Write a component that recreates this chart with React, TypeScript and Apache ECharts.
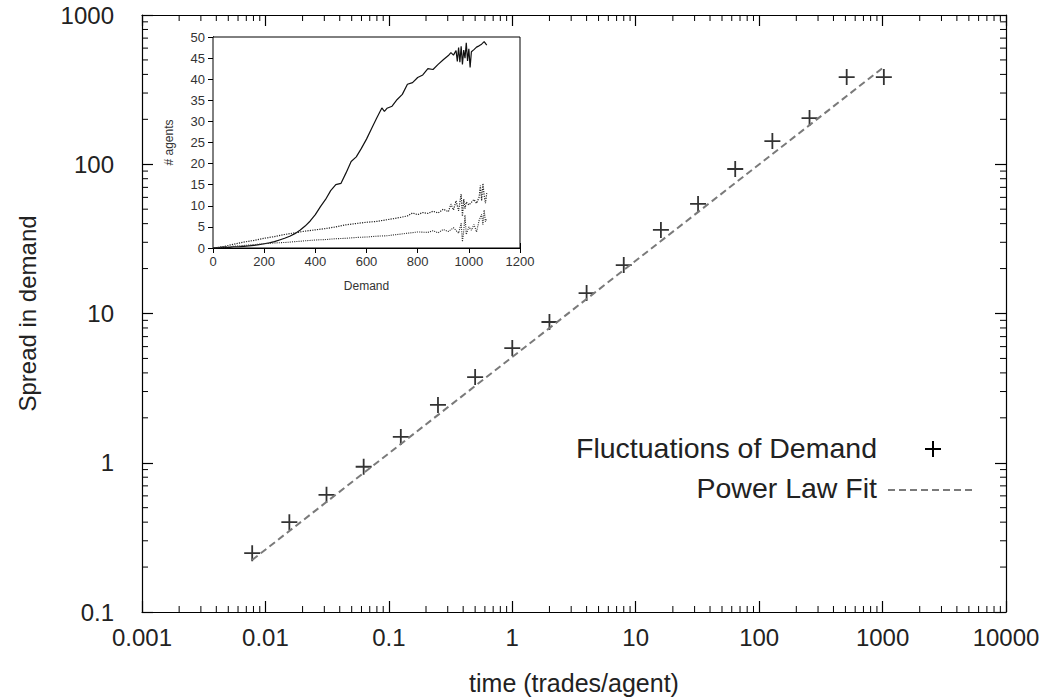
import React, { useEffect, useRef } from "react";
import * as echarts from "echarts";

// ---- main chart data ----
const timeValues = [0.0078125, 0.015625, 0.03125, 0.0625, 0.125, 0.25, 0.5, 1, 2, 4, 8, 16, 32, 64, 128, 256, 512, 1024];
const spreadValues = [0.248, 0.40, 0.61, 0.94, 1.49, 2.44, 3.75, 5.87, 8.77, 13.7, 21.1, 36.3, 54.2, 92.9, 143, 204, 384, 384];
const fitTime = [0.0078, 1000];
const fitSpread = [0.223, 441];
const xTickLabels = ["0.001", "0.01", "0.1", "1", "10", "100", "1000", "10000"];
const yTickLabels = ["0.1", "1", "10", "100", "1000"];

// ---- inset data ----
const insetA_x = [0, 20, 40, 60, 80, 100, 120, 140, 160, 180, 200, 220, 240, 260, 280, 300, 320, 340, 360, 380, 400, 420, 440, 460, 480, 500, 520, 540, 560, 580, 600, 620, 640, 660, 670, 680, 700, 720, 740, 760, 780, 800, 820, 840, 860, 880, 900, 920, 930, 940, 950, 955, 960, 965, 970, 975, 980, 985, 990, 995, 1000, 1005, 1010, 1020, 1030, 1040, 1050, 1060, 1070];
const insetA_y = [0, 0.1, 0.2, 0.1, 0.3, 0.3, 0.4, 0.5, 0.6, 0.8, 1.0, 1.2, 1.5, 1.9, 2.3, 2.8, 3.4, 4.2, 5.2, 6.4, 7.9, 9.8, 11.5, 13.6, 15.0, 15.3, 17.8, 20.5, 21.6, 23.6, 25.8, 28.3, 30.8, 33.2, 32.4, 33.1, 33.6, 35.2, 36.4, 38.8, 39.2, 40.4, 41.0, 42.5, 42.3, 43.5, 44.6, 45.6, 46.3, 45.7, 46.8, 44.2, 47.5, 44.0, 47.8, 43.5, 46.9, 45.0, 48.6, 44.3, 47.2, 42.8, 46.5, 47.0, 47.6, 47.9, 48.3, 48.9, 48.1];
const insetB_x = [0, 40, 80, 120, 160, 200, 240, 280, 320, 360, 400, 440, 480, 520, 560, 600, 640, 680, 720, 760, 780, 800, 820, 840, 860, 880, 900, 920, 930, 940, 950, 960, 970, 975, 980, 985, 990, 1000, 1010, 1020, 1030, 1040, 1045, 1050, 1055, 1060, 1065, 1070];
const insetB_y = [0, 0.3, 0.9, 1.4, 1.8, 2.3, 2.7, 3.2, 3.6, 4.0, 4.3, 4.6, 5.0, 5.5, 5.8, 6.1, 6.3, 6.7, 7.1, 7.6, 8.3, 7.9, 8.4, 8.2, 8.7, 8.3, 9.2, 8.6, 10.4, 9.0, 11.2, 8.8, 12.8, 7.5, 11.6, 9.3, 10.9, 10.2, 10.8, 11.5, 10.6, 12.0, 14.8, 11.2, 15.3, 12.4, 10.6, 13.0];
const insetC_x = [0, 40, 80, 120, 160, 200, 240, 280, 320, 360, 400, 440, 480, 520, 560, 600, 640, 680, 720, 760, 800, 840, 860, 880, 900, 920, 940, 960, 970, 975, 980, 985, 990, 1000, 1010, 1020, 1030, 1040, 1050, 1055, 1060, 1065, 1070];
const insetC_y = [0, 0.2, 0.4, 0.6, 0.8, 1.0, 1.2, 1.3, 1.5, 1.7, 1.9, 2.0, 2.2, 2.3, 2.5, 2.6, 2.8, 2.9, 3.2, 3.5, 3.8, 3.7, 4.1, 3.6, 4.4, 3.9, 4.8, 3.5, 5.9, 1.5, 4.0, 7.8, 3.2, 5.0, 4.2, 5.6, 3.8, 6.5, 8.0, 5.5, 9.0, 6.2, 7.0];

const FONT = "'Liberation Sans', Arial, sans-serif";
const TEXT = "#222";

function minorTicks(lo: number, hi: number): number[] {
  const out: number[] = [];
  for (let d = lo; d < hi; d++) {
    for (let m = 2; m <= 9; m++) out.push(m * Math.pow(10, d));
  }
  return out;
}

export default function App() {
  const ref = useRef<HTMLDivElement>(null);
  useEffect(() => {
    if (!ref.current) return;
    const chart = echarts.init(ref.current, undefined, { renderer: "svg" });
    const xMinor = minorTicks(-3, 4);
    const yMinor = minorTicks(-1, 3);
    const tickStyle = { stroke: "#000", lineWidth: 1 };
    const logLabel = (labels: string[], base: number) => (v: number) => {
      const i = Math.round(Math.log10(v)) - base;
      return labels[i] ?? "";
    };
    const plain = (v: number) => String(v);
    const insetAxisLabel = { fontSize: 13, color: "#333", fontFamily: FONT, formatter: plain };

    const option: any = {
      animation: false,
      backgroundColor: "#fff",
      grid: [
        { left: 142, top: 15, right: 43, bottom: 88, show: false },
        { left: 213, top: 37, width: 307, height: 211, show: true, backgroundColor: "#fff", borderColor: "#000", borderWidth: 1, z: 5 },
      ],
      xAxis: [
        {
          type: "log", gridIndex: 0, min: 0.001, max: 10000, logBase: 10,
          axisLine: { lineStyle: { color: "#000", width: 1.2 } },
          axisTick: { inside: true, length: 11, lineStyle: { color: "#000", width: 1.2 } },
          axisLabel: { fontSize: 24, color: TEXT, fontFamily: FONT, margin: 13, formatter: logLabel(xTickLabels, -3) },
          splitLine: { show: false },
          name: "time (trades/agent)", nameLocation: "middle", nameGap: 58,
          nameTextStyle: { fontSize: 25, color: TEXT, fontFamily: FONT },
        },
        {
          type: "log", gridIndex: 0, min: 0.001, max: 10000, logBase: 10, position: "top",
          axisLine: { lineStyle: { color: "#000", width: 1.2 } },
          axisTick: { inside: true, length: 11, lineStyle: { color: "#000", width: 1.2 } },
          axisLabel: { show: false }, splitLine: { show: false },
        },
        {
          type: "value", gridIndex: 1, min: 0, max: 1200, interval: 200,
          axisLine: { lineStyle: { color: "#000" } },
          axisTick: { inside: true, length: 5, lineStyle: { color: "#000" } },
          axisLabel: { ...insetAxisLabel, margin: 7 },
          splitLine: { show: false },
          name: "Demand", nameLocation: "middle", nameGap: 32,
          nameTextStyle: { fontSize: 12, color: "#333", fontFamily: FONT },
        },
        {
          type: "value", gridIndex: 1, min: 0, max: 1200, interval: 200, position: "top",
          axisLine: { lineStyle: { color: "#000" } },
          axisTick: { inside: true, length: 5, lineStyle: { color: "#000" } },
          axisLabel: { show: false }, splitLine: { show: false },
        },
      ],
      yAxis: [
        {
          type: "log", gridIndex: 0, min: 0.1, max: 1000, logBase: 10,
          axisLine: { lineStyle: { color: "#000", width: 1.2 } },
          axisTick: { inside: true, length: 11, lineStyle: { color: "#000", width: 1.2 } },
          axisLabel: { fontSize: 24, color: TEXT, fontFamily: FONT, margin: 28, formatter: logLabel(yTickLabels, -1) },
          splitLine: { show: false },
          name: "Spread in demand", nameLocation: "middle", nameGap: 103, nameRotate: 90,
          nameTextStyle: { fontSize: 24, color: TEXT, fontFamily: FONT },
        },
        {
          type: "log", gridIndex: 0, min: 0.1, max: 1000, logBase: 10, position: "right",
          axisLine: { lineStyle: { color: "#000", width: 1.2 } },
          axisTick: { inside: true, length: 11, lineStyle: { color: "#000", width: 1.2 } },
          axisLabel: { show: false }, splitLine: { show: false },
        },
        {
          type: "value", gridIndex: 1, min: 0, max: 50, interval: 5,
          axisLine: { lineStyle: { color: "#000" } },
          axisTick: { inside: true, length: 5, lineStyle: { color: "#000" } },
          axisLabel: { ...insetAxisLabel, margin: 8 },
          splitLine: { show: false },
          name: "# agents", nameLocation: "middle", nameGap: 38, nameRotate: 90,
          nameTextStyle: { fontSize: 12, color: "#333", fontFamily: FONT },
        },
        {
          type: "value", gridIndex: 1, min: 0, max: 50, interval: 5, position: "right",
          axisLine: { lineStyle: { color: "#000" } },
          axisTick: { inside: true, length: 5, lineStyle: { color: "#000" } },
          axisLabel: { show: false }, splitLine: { show: false },
        },
      ],
      series: [
        {
          type: "custom", xAxisIndex: 0, yAxisIndex: 0, silent: true,
          data: xMinor.map((v) => [v, 1]),
          renderItem: (_p: any, api: any) => {
            const x = api.value(0);
            const b = api.coord([x, 0.1]);
            const t = api.coord([x, 1000]);
            return {
              type: "group",
              children: [
                { type: "line", shape: { x1: b[0], y1: b[1], x2: b[0], y2: b[1] - 6 }, style: tickStyle },
                { type: "line", shape: { x1: t[0], y1: t[1], x2: t[0], y2: t[1] + 6 }, style: tickStyle },
              ],
            };
          },
        },
        {
          type: "custom", xAxisIndex: 0, yAxisIndex: 0, silent: true,
          data: yMinor.map((v) => [1, v]),
          renderItem: (_p: any, api: any) => {
            const y = api.value(1);
            const l = api.coord([0.001, y]);
            const r = api.coord([10000, y]);
            return {
              type: "group",
              children: [
                { type: "line", shape: { x1: l[0], y1: l[1], x2: l[0] + 6, y2: l[1] }, style: tickStyle },
                { type: "line", shape: { x1: r[0], y1: r[1], x2: r[0] - 6, y2: r[1] }, style: tickStyle },
              ],
            };
          },
        },
        {
          name: "Power Law Fit", type: "line", xAxisIndex: 0, yAxisIndex: 0,
          data: fitTime.map((t, i) => [t, fitSpread[i]]),
          symbol: "none",
          lineStyle: { color: "#7a7a7a", width: 2, type: [7, 4] },
        },
        {
          name: "Fluctuations of Demand", type: "scatter", xAxisIndex: 0, yAxisIndex: 0,
          data: timeValues.map((t, i) => [t, spreadValues[i]]),
          symbol: "path://M8,0L8,16M0,8L16,8",
          symbolSize: 16,
          itemStyle: { color: "none", borderColor: "#000", borderWidth: 1.8 },
        },
        {
          type: "line", xAxisIndex: 2, yAxisIndex: 2, z: 6,
          data: insetA_x.map((x, i) => [x, insetA_y[i]]),
          symbol: "none", lineStyle: { color: "#111", width: 1.2 },
        },
        {
          type: "line", xAxisIndex: 2, yAxisIndex: 2, z: 6,
          data: insetB_x.map((x, i) => [x, insetB_y[i]]),
          symbol: "none", lineStyle: { color: "#222", width: 1.2, type: "dotted" },
        },
        {
          type: "line", xAxisIndex: 2, yAxisIndex: 2, z: 6,
          data: insetC_x.map((x, i) => [x, insetC_y[i]]),
          symbol: "none", lineStyle: { color: "#333", width: 1.1, type: "dotted" },
        },
      ],
      graphic: [
        { type: "text", right: 1049 - 877, top: 433, style: { text: "Fluctuations of Demand", font: `28.5px ${FONT}`, fill: TEXT } },
        { type: "line", shape: { x1: 925, y1: 449, x2: 941, y2: 449 }, style: { stroke: "#000", lineWidth: 2 } },
        { type: "line", shape: { x1: 933, y1: 441, x2: 933, y2: 457 }, style: { stroke: "#000", lineWidth: 2 } },
        { type: "text", right: 1049 - 877, top: 473, style: { text: "Power Law Fit", font: `28.5px ${FONT}`, fill: TEXT } },
        { type: "line", shape: { x1: 888, y1: 490, x2: 972, y2: 490 }, style: { stroke: "#7a7a7a", lineWidth: 2, lineDash: [7, 4] } },
      ],
    };
    chart.setOption(option);
    return () => chart.dispose();
  }, []);
  return (
    <div
      ref={ref}
      style={{ position: "fixed", left: 0, top: 0, width: 1049, height: 700, background: "#fff" }}
    />
  );
}
